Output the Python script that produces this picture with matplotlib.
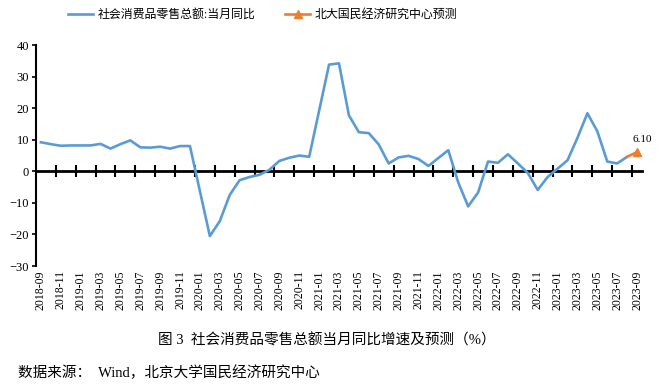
import numpy as np
import matplotlib
matplotlib.use('Agg')
import matplotlib.pyplot as plt

plt.rcParams['font.family'] = ['Liberation Serif', 'Noto Sans CJK SC', 'DejaVu Sans']

# données mensuelles 2018-09 -> 2023-09 (janvier manquant : cumul jan-fév)
mois = []
for an in range(2018, 2024):
    for m in range(1, 13):
        if (an == 2018 and m < 9) or (an == 2023 and m > 9):
            continue
        mois.append(f"{an}-{m:02d}")

valeurs = [9.2, 8.6, 8.1, 8.2,
           np.nan, 8.2, 8.7, 7.2, 8.6, 9.8, 7.6, 7.5, 7.8, 7.2, 8.0, 8.0,
           np.nan, -20.5, -15.8, -7.5, -2.8, -1.8, -1.1, 0.5, 3.3, 4.3, 5.0, 4.6,
           np.nan, 33.8, 34.2, 17.7, 12.4, 12.1, 8.5, 2.5, 4.4, 4.9, 3.9, 1.7,
           np.nan, 6.7, -3.5, -11.1, -6.7, 3.1, 2.7, 5.4, 2.5, -0.5, -5.9, -1.8,
           np.nan, 3.5, 10.6, 18.4, 12.7, 3.1, 2.5, 4.6, np.nan]
prevision_mois = ["2023-08", "2023-09"]
prevision_val = [4.6, 6.10]

label_serie = "社会消费品零售总额:当月同比"
label_prev = "北大国民经济研究中心预测"
titre = "图 3  社会消费品零售总额当月同比增速及预测（%）"
source = "数据来源：  Wind，北京大学国民经济研究中心"

bleu = '#5B9BD5'
orange = '#ED7D31'

x = np.arange(len(mois))
y = np.array(valeurs, dtype=float)
ok = ~np.isnan(y)
xp = np.array([mois.index(m) for m in prevision_mois])

ymin, ymax = -30, 40

fig = plt.figure(figsize=(6.66, 3.85), dpi=100)
ax = fig.add_axes([0.054, 0.309, 0.910, 0.574])

ax.plot(x[ok], y[ok], color=bleu, lw=1.9, label=label_serie, zorder=3)
ax.plot(xp, prevision_val, color=orange, lw=1.9, marker='^', markevery=[1],
        markersize=6, label=label_prev, zorder=4)
ax.annotate(f"{prevision_val[-1]:.2f}", (xp[-1], prevision_val[-1]),
            xytext=(4, 9), textcoords='offset points', ha='center', va='center',
            fontsize=8, family='Liberation Serif')

ax.set_xlim(-0.5, len(mois) - 0.5)
ax.set_ylim(ymin, ymax)
ax.set_yticks(np.arange(ymin, ymax + 1, 10))
ax.tick_params(axis='y', direction='out', length=3, width=1.2, labelsize=9, pad=2)

for s in ['top', 'right']:
    ax.spines[s].set_visible(False)
ax.spines['left'].set_linewidth(1.5)
ax.spines['bottom'].set_visible(False)

# étiquettes en bas
ax.set_xticks(x[::2])
ax.set_xticklabels(mois[::2], rotation=90, fontsize=8.5)
ax.tick_params(axis='x', length=0, pad=3)

# axe à zéro avec graduations entre catégories
pos0 = (0 - ymin) / (ymax - ymin)
sec = ax.secondary_xaxis(pos0)
sec.set_xticks(x[1:-1:2] + 0.5)
sec.set_xticklabels([])
sec.tick_params(axis='x', direction='inout', length=8, width=1.5)
sec.spines['bottom'].set_linewidth(2)
sec.spines['bottom'].set_color('black')

fig.legend(loc='upper center', bbox_to_anchor=(0.394, 1.005), ncol=2, frameon=False,
           fontsize=8.6, columnspacing=2.5, handlelength=2.1, handletextpad=0.35)

fig.text(0.49, 0.117, titre, ha='center', va='center', fontsize=10.5)
fig.text(0.027, 0.032, source, ha='left', va='center', fontsize=10.5)

fig.savefig('out.png', dpi=100)
